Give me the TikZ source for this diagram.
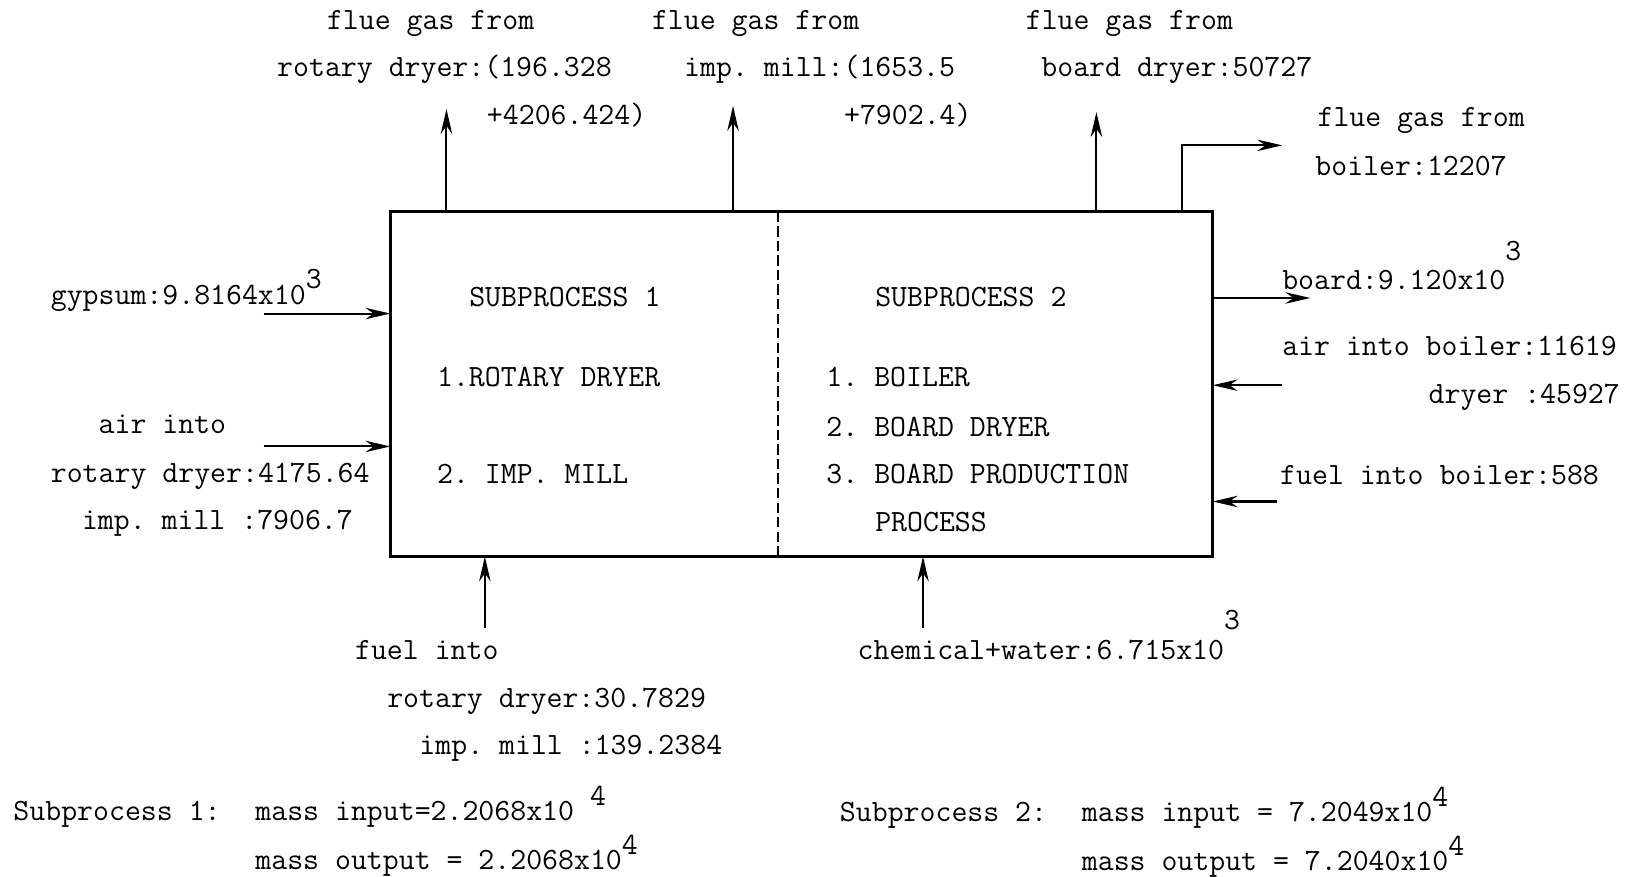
\documentclass[tikz,border=0pt]{standalone}
\usepackage{fontspec}
\usetikzlibrary{arrows.meta}
\frenchspacing
\begin{document}
\begin{tikzpicture}[x=0.5pt, y=-0.5pt, >={Stealth[length=12pt,width=5.5pt]}, line width=1pt,
    every node/.style={font=\ttfamily\fontsize{14.9}{18}\selectfont, inner sep=0pt, anchor=base west}]
  \useasboundingbox (0,0) rectangle (1568,844);
  % 1. box with the two subprocesses
  \coordinate (nw) at (376,204);
  \coordinate (se) at (1168,536);
  \coordinate (dv) at (749,204);
  \draw[line width=1.3pt] (nw) rectangle (se);
  \draw[dashed, dash pattern=on 5pt off 2pt, line width=0.8pt] (dv) -- (dv |- se);

  \node (s1) at (451,295) {SUBPROCESS 1};
  \node (s1a) at (420,372) {1.ROTARY DRYER};
  \node (s1b) at (420,466) {2. IMP. MILL};
  \node (s2) at (842,295) {SUBPROCESS 2};
  \node (s2a) at (795,372) {1. BOILER};
  \node (s2b) at (795,420) {2. BOARD DRYER};
  \node (s2c) at (795,466) {3. BOARD PRODUCTION};
  \node (s2d) at (842,512) {PROCESS};

  % 2. flue gas outlets
  \coordinate (o1) at (430,105);
  \coordinate (o2) at (706,102);
  \coordinate (o3) at (1056,108);
  \coordinate (t4) at (1138,204);
  \coordinate (o4) at (1235,140);
  \draw[->] (o1 |- nw) -- (o1);
  \draw[->] (o2 |- nw) -- (o2);
  \draw[->] (o3 |- nw) -- (o3);
  \draw[->] (t4) |- (o4);

  \node (f1a) at (314,28) {flue gas from};
  \node (f1b) at (266,74) {rotary dryer:(196.328};
  \node (f1c) at (468,120) {+4206.424)};
  \node (f2a) at (627,28) {flue gas from};
  \node (f2b) at (658,74) {imp. mill:(1653.5};
  \node (f2c) at (812,120) {+7902.4)};
  \node (f3a) at (987,28) {flue gas from};
  \node (f3b) at (1002,74) {board dryer:50727};
  \node (f4a) at (1268,122) {flue gas from};
  \node (f4b) at (1266,169) {boiler:12207};

  % 3. left inputs
  \coordinate (i1) at (254,302);
  \coordinate (i2) at (254,430);
  \draw[->] (i1) -- (i1 -| nw);
  \draw[->] (i2) -- (i2 -| nw);
  \node (gy) at (48,293) {gypsum:9.8164x10\raisebox{1.2ex}{3}};
  \node (ar1) at (94,418) {air into};
  \node (ar2) at (48,465) {rotary dryer:4175.64};
  \node (ar3) at (78,510) {imp. mill :7906.7};

  % 4. right side
  \coordinate (r1) at (1262,287);
  \coordinate (r2) at (1235,371);
  \coordinate (r3) at (1230,483);
  \draw[->] (r1 -| se) -- (r1);
  \draw[->] (r2) -- (r2 -| se);
  \draw[->] (r3) -- (r3 -| se);
  \node (bd) at (1234,279) {board:9.120x10\raisebox{2.2ex}{3}};
  \node (ab1) at (1234,342) {air into boiler:11619};
  \node (ab2) at (1375,389) {dryer :45927};
  \node (fb) at (1232,467) {fuel into boiler:588};

  % 5. bottom inputs
  \coordinate (b1) at (467,605);
  \coordinate (b2) at (889,605);
  \draw[->] (b1) -- (b1 |- se);
  \draw[->] (b2) -- (b2 |- se);
  \node (fu1) at (341,635) {fuel into};
  \node (fu2) at (372,681) {rotary dryer:30.7829};
  \node (fu3) at (403,727) {imp. mill :139.2384};
  \node (cw) at (825,635) {chemical+water:6.715x10\raisebox{2.2ex}{3}};

  % 6. mass balance
  \node (m1) at (12,790) {Subprocess 1:};
  \node (m1i) at (245,790) {mass input=2.2068x10 \raisebox{1.1ex}{4}};
  \node (m1o) at (245,837) {mass output = 2.2068x10\raisebox{1.1ex}{4}};
  \node (m2) at (808,791) {Subprocess 2:};
  \node (m2i) at (1041,791) {mass input = 7.2049x10\raisebox{1.1ex}{4}};
  \node (m2o) at (1041,838) {mass output = 7.2040x10\raisebox{1.1ex}{4}};
\end{tikzpicture}
\end{document}
